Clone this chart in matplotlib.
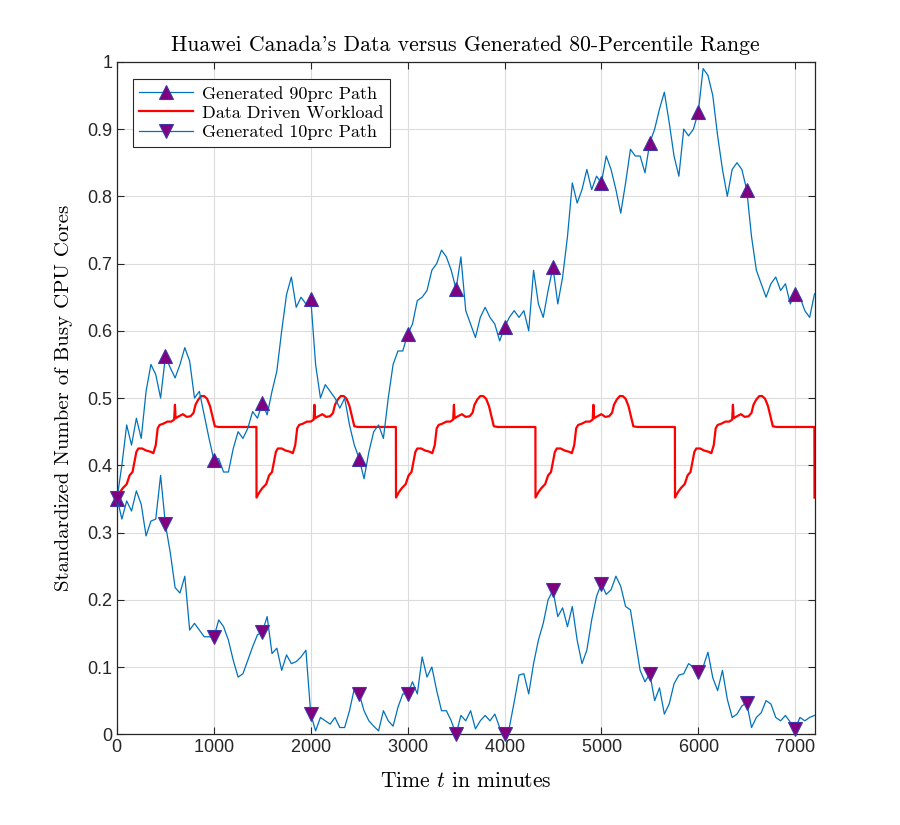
import numpy as np
import matplotlib
matplotlib.use("Agg")
import matplotlib.pyplot as plt

# time grid of the generated paths (minutes), read every 50 min
t_path = np.arange(0, 7201, 50)

p90 = [0.35, 0.40, 0.46, 0.43, 0.47, 0.44, 0.51, 0.55, 0.535, 0.50,
       0.562, 0.545, 0.53, 0.55, 0.575, 0.555, 0.50, 0.51, 0.475, 0.44,
       0.408, 0.41, 0.39, 0.39, 0.425, 0.45, 0.44, 0.455, 0.48, 0.47,
       0.493, 0.475, 0.51, 0.54, 0.60, 0.654, 0.68, 0.635, 0.65, 0.64,
       0.648, 0.55, 0.50, 0.52, 0.51, 0.50, 0.485, 0.50, 0.46, 0.43,
       0.41, 0.38, 0.42, 0.45, 0.46, 0.44, 0.50, 0.55, 0.57, 0.57,
       0.595, 0.61, 0.645, 0.65, 0.66, 0.69, 0.70, 0.72, 0.71, 0.69,
       0.662, 0.71, 0.63, 0.61, 0.59, 0.62, 0.635, 0.62, 0.61, 0.585,
       0.605, 0.62, 0.63, 0.62, 0.63, 0.60, 0.69, 0.64, 0.62, 0.66,
       0.695, 0.64, 0.68, 0.74, 0.82, 0.79, 0.81, 0.84, 0.81, 0.83,
       0.82, 0.86, 0.84, 0.81, 0.775, 0.82, 0.87, 0.86, 0.86, 0.835,
       0.88, 0.90, 0.93, 0.955, 0.91, 0.86, 0.83, 0.90, 0.89, 0.90,
       0.925, 0.99, 0.98, 0.95, 0.89, 0.84, 0.80, 0.84, 0.85, 0.84,
       0.81, 0.74, 0.69, 0.67, 0.65, 0.67, 0.68, 0.66, 0.67, 0.64,
       0.655, 0.65, 0.63, 0.62, 0.655]

p10 = [0.352, 0.32, 0.347, 0.332, 0.362, 0.342, 0.295, 0.317, 0.32, 0.385,
       0.312, 0.27, 0.218, 0.21, 0.235, 0.155, 0.165, 0.155, 0.145, 0.145,
       0.144, 0.17, 0.16, 0.14, 0.11, 0.085, 0.09, 0.11, 0.13, 0.148,
       0.152, 0.175, 0.12, 0.128, 0.095, 0.118, 0.105, 0.108, 0.115, 0.125,
       0.03, 0.005, 0.025, 0.02, 0.015, 0.025, 0.01, 0.01, 0.035, 0.068,
       0.06, 0.035, 0.02, 0.012, 0.005, 0.035, 0.02, 0.012, 0.04, 0.06,
       0.06, 0.078, 0.06, 0.115, 0.085, 0.10, 0.065, 0.035, 0.035, 0.02,
       0.0, 0.028, 0.02, 0.035, 0.008, 0.02, 0.028, 0.02, 0.03, 0.01,
       0.0, 0.01, 0.048, 0.088, 0.09, 0.06, 0.105, 0.14, 0.165, 0.20,
       0.214, 0.175, 0.188, 0.16, 0.19, 0.14, 0.105, 0.125, 0.17, 0.205,
       0.224, 0.208, 0.215, 0.235, 0.22, 0.19, 0.185, 0.14, 0.095, 0.078,
       0.09, 0.05, 0.069, 0.03, 0.045, 0.075, 0.088, 0.09, 0.105, 0.10,
       0.092, 0.10, 0.122, 0.084, 0.065, 0.095, 0.052, 0.025, 0.03, 0.042,
       0.047, 0.01, 0.025, 0.032, 0.05, 0.045, 0.025, 0.02, 0.028, 0.018,
       0.008, 0.025, 0.02, 0.025, 0.028]

# one day of the data driven workload (minute of day, value)
day_min = [0, 30, 60, 100, 130, 160, 180, 200, 220, 260, 300, 350, 375,
           400, 420, 440, 480, 520, 560, 590, 598, 605, 640, 680, 720,
           760, 790, 810, 840, 870, 900, 930, 960, 990, 1010, 1050, 1200,
           1439]
day_val = [0.352, 0.36, 0.366, 0.372, 0.385, 0.39, 0.405, 0.42, 0.425,
           0.425, 0.422, 0.42, 0.418, 0.43, 0.455, 0.46, 0.462, 0.465,
           0.465, 0.468, 0.49, 0.47, 0.473, 0.476, 0.472, 0.473, 0.478,
           0.49, 0.498, 0.503, 0.503, 0.499, 0.488, 0.47, 0.458, 0.457,
           0.457, 0.457]
n_days = 5
end_val = 0.352

t_data = []
y_data = []
for d in range(n_days):
    t_data += [d * 1440 + m for m in day_min]
    y_data += day_val
t_data.append(n_days * 1440)
y_data.append(end_val)

marker_step = 500
xticks = np.arange(0, 7001, 1000)
yticks = np.round(np.arange(0, 1.01, 0.1), 1)
ytick_labels = ["0"] + ["%.1f" % v for v in yticks[1:-1]] + ["1"]

blue = "#0072BD"
purple = (0.5, 0.0, 0.5)
serif = ["cmr10", "DejaVu Serif"]
plt.rcParams["mathtext.fontset"] = "cm"
plt.rcParams["axes.formatter.use_mathtext"] = True

fig = plt.figure(figsize=(9, 8.25), dpi=100)
ax = fig.add_axes([0.13, 0.11, 0.775, 0.815])

every = [i for i, t in enumerate(t_path) if t % marker_step == 0 and t <= 7000]
ax.plot(t_path, p90, color=blue, lw=0.9, marker="^", markevery=every,
        markersize=10, markerfacecolor=purple, markeredgecolor="#3a3aa8",
        markeredgewidth=0.8, label="Generated 90prc Path", clip_on=False, zorder=3)
ax.plot(t_data, y_data, color="red", lw=1.6, label="Data Driven Workload", zorder=2)
ax.plot(t_path, p10, color=blue, lw=0.9, marker="v", markevery=every,
        markersize=10, markerfacecolor=purple, markeredgecolor="#3a3aa8",
        markeredgewidth=0.8, label="Generated 10prc Path", clip_on=False, zorder=3)

ax.set_xlim(0, 7200)
ax.set_ylim(0, 1)
ax.set_xticks(xticks)
ax.set_yticks(yticks)
ax.set_yticklabels(ytick_labels)
ax.tick_params(direction="in", top=True, right=True, length=5, width=0.8,
               labelsize=13, colors="#262626")
for lab in ax.get_xticklabels() + ax.get_yticklabels():
    lab.set_fontfamily(["Liberation Sans", "DejaVu Sans"])
ax.grid(True, color="#dcdcdc", lw=0.8)
ax.set_axisbelow(True)
for s in ax.spines.values():
    s.set_linewidth(0.9)
    s.set_color("#262626")

ax.set_title("Huawei Canada's Data versus Generated 80-Percentile Range",
             fontfamily=serif, fontsize=15.7, pad=8)
ax.set_xlabel("Time $t$ in minutes", fontfamily=serif, fontsize=15.5, labelpad=11)
ax.set_ylabel("Standardized Number of Busy CPU Cores", fontfamily=serif,
              fontsize=15, labelpad=10)

leg = ax.legend(loc="upper left", bbox_to_anchor=(0.015, 0.982), prop={"family": serif, "size": 13},
                fancybox=False, edgecolor="#262626", framealpha=1,
                handlelength=3.0, borderpad=0.35, labelspacing=0.2,
                handletextpad=0.5, borderaxespad=0.3)
leg.get_frame().set_linewidth(0.8)

fig.savefig("out.png", dpi=100)
